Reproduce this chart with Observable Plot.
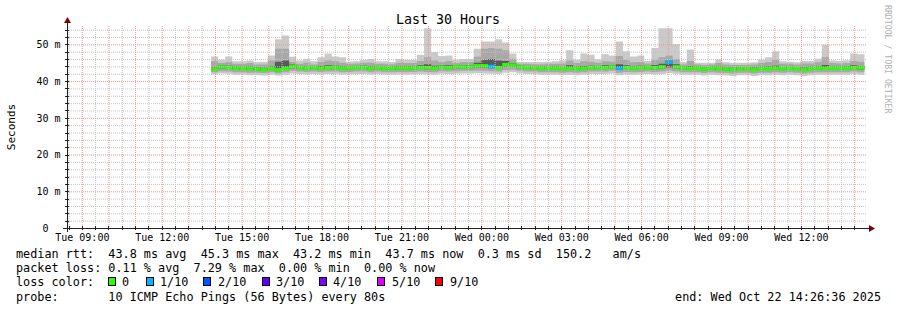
<!DOCTYPE html>
<html><head><meta charset="utf-8">
<script src="https://cdn.jsdelivr.net/npm/d3@7"></script>
<script src="https://cdn.jsdelivr.net/npm/@observablehq/plot@0.6"></script>
<style>
html,body{margin:0;padding:0;background:#fff;}
#chart{width:897px;height:310px;overflow:hidden;}
svg{display:block;}
</style></head><body><div id="chart"></div>
<script>
const title = "Last 30 Hours";
const yLabel = "Seconds";
const credit = "RRDTOOL / TOBI OETIKER";
const windowStart = "2025-10-21T08:26:36Z";
const windowEnd = "2025-10-22T14:26:36Z";
const firstStep = "2025-10-21T13:51:00Z";
const stepMinutes = 16;

const yTicks = [0, 10, 20, 30, 40, 50];
const yTickLabels = ["0\u00a0\u00a0", "10 m", "20 m", "30 m", "40 m", "50 m"];
const xTickTimes = ["2025-10-21T09:00Z","2025-10-21T12:00Z","2025-10-21T15:00Z","2025-10-21T18:00Z","2025-10-21T21:00Z","2025-10-22T00:00Z","2025-10-22T03:00Z","2025-10-22T06:00Z","2025-10-22T09:00Z","2025-10-22T12:00Z"];
const xTickLabels = ["Tue 09:00","Tue 12:00","Tue 15:00","Tue 18:00","Tue 21:00","Wed 00:00","Wed 03:00","Wed 06:00","Wed 09:00","Wed 12:00"];

// ms values per 16-minute step
const pingMax = [
46.7,45.8,46.7,45.4,45.4,45.6,45.2,45.3,47.0,51.4,
52.4,46.6,45.6,46.0,45.4,46.5,47.5,46.7,46.5,45.3,
45.4,45.8,46.0,45.4,45.4,45.2,46.0,45.8,45.8,47.2,
54.4,47.9,46.8,47.0,45.8,46.0,46.0,48.8,50.8,50.8,
51.4,50.5,47.5,45.2,45.2,45.2,45.2,45.3,45.4,45.6,
48.4,45.8,47.5,47.2,45.9,47.3,47.0,50.8,48.1,46.7,
47.0,45.5,49.0,54.4,54.4,50.0,45.1,48.6,45.0,45.0,
45.0,45.9,45.1,45.0,45.0,45.0,45.1,45.9,46.5,48.1,
45.4,45.3,45.1,45.5,45.5,46.1,49.9,45.6,45.5,45.7,
47.5,47.3];
const pingHi = [
45.4,44.9,45.2,44.7,44.7,44.9,44.5,44.5,45.6,48.8,
48.8,45.2,44.7,45.0,44.5,45.2,45.6,45.4,45.0,44.7,
44.8,45.0,45.0,44.7,44.7,44.6,45.0,44.9,44.9,45.5,
46.5,45.6,45.2,45.5,44.9,45.2,45.2,46.6,48.8,49.0,
48.8,48.4,46.1,44.7,44.7,44.6,44.6,44.7,44.7,44.8,
45.6,44.9,45.4,45.3,45.0,45.4,45.3,46.8,45.8,45.1,
45.2,44.8,45.8,46.5,47.0,46.0,44.6,45.5,44.5,44.4,
44.5,44.9,44.5,44.4,44.4,44.4,44.5,44.9,45.2,45.8,
44.7,44.7,44.5,44.8,44.8,45.1,46.5,44.9,44.8,44.9,
45.5,45.3];
const pingHi2 = [
43.8,44.3,44.2,43.9,43.9,43.9,43.7,43.6,44.0,45.3,
45.6,44.5,44.1,44.0,44.0,44.1,44.3,44.2,44.0,44.0,
44.1,44.2,44.0,44.1,43.9,43.9,44.1,44.0,44.1,44.3,
44.6,44.2,44.3,44.3,44.3,44.4,44.4,45.0,45.8,46.0,
45.6,45.5,44.9,44.3,44.1,44.1,43.9,43.9,44.0,43.8,
44.3,43.9,44.1,44.2,44.1,44.3,44.4,44.6,44.3,44.0,
44.2,44.1,44.4,44.7,45.6,44.6,43.9,44.1,43.9,43.7,
43.9,43.9,43.7,43.6,43.8,43.8,43.7,43.9,44.0,44.2,
43.8,43.9,43.8,43.7,43.9,44.0,44.4,43.9,43.9,44.0,
44.3,44.1];
const pingMed = [
43.4,44.0,43.8,43.6,43.6,43.5,43.4,43.3,43.5,43.2,
43.6,44.1,43.8,43.6,43.8,43.6,43.8,43.8,43.6,43.7,
43.8,43.8,43.6,43.8,43.6,43.6,43.7,43.6,43.7,43.8,
43.8,43.6,43.9,43.8,44.0,44.0,44.0,44.3,44.3,44.1,
43.8,44.6,44.5,44.0,43.8,43.8,43.6,43.6,43.6,43.5,
43.6,43.5,43.6,43.8,43.8,43.8,44.0,43.6,43.8,43.6,
43.8,43.8,43.8,44.0,45.3,44.0,43.6,43.6,43.6,43.4,
43.6,43.5,43.4,43.3,43.5,43.5,43.3,43.5,43.5,43.6,
43.5,43.6,43.5,43.3,43.5,43.6,43.6,43.6,43.6,43.6,
43.8,43.7];
const pingLo2 = [
43.0,43.4,43.3,43.1,43.1,43.0,42.9,42.8,43.0,42.7,
43.1,43.5,43.3,43.1,43.3,43.1,43.3,43.3,43.1,43.2,
43.3,43.3,43.1,43.3,43.1,43.1,43.2,43.1,43.2,43.3,
43.2,43.1,43.4,43.3,43.4,43.5,43.5,43.7,43.6,43.5,
43.3,43.9,43.9,43.5,43.3,43.3,43.1,43.1,43.1,43.0,
43.1,43.0,43.1,43.3,43.3,43.3,43.5,43.1,43.3,43.1,
43.3,43.3,43.2,43.4,43.7,43.4,43.1,43.1,43.1,42.9,
43.1,43.0,42.9,42.8,43.0,43.0,42.8,43.0,43.0,43.1,
43.0,43.1,43.0,42.8,43.0,43.1,43.1,43.1,43.1,43.1,
43.3,43.1];
const pingLo = [
42.4,42.7,42.6,42.4,42.4,42.3,42.3,42.2,42.4,42.1,
42.4,42.8,42.6,42.5,42.6,42.5,42.6,42.6,42.4,42.5,
42.6,42.6,42.4,42.6,42.4,42.4,42.5,42.4,42.5,42.6,
42.5,42.4,42.7,42.6,42.7,42.8,42.8,42.9,42.8,42.7,
42.6,43.0,43.1,42.8,42.6,42.6,42.4,42.4,42.4,42.3,
42.4,42.3,42.4,42.6,42.6,42.6,42.8,42.3,42.5,42.4,
42.5,42.6,42.5,42.6,42.9,42.7,42.4,42.4,42.4,42.2,
42.4,42.3,42.2,42.1,42.3,42.3,42.1,42.3,42.3,42.4,
42.3,42.4,42.3,42.1,42.3,42.4,42.4,42.4,42.4,42.4,
42.6,42.4];
const pingMin = [
41.8,42.1,42.0,41.7,41.7,41.6,41.6,41.5,41.7,41.5,
41.7,42.1,41.9,41.8,41.9,41.8,41.9,41.9,41.7,41.8,
41.9,41.9,41.7,41.9,41.7,41.7,41.8,41.7,41.8,41.9,
41.8,41.7,42.0,41.9,42.0,42.1,42.1,42.2,42.1,42.0,
41.9,42.3,42.4,42.1,41.9,41.9,41.7,41.7,41.7,41.6,
41.7,41.6,41.7,41.9,41.9,41.9,42.1,41.6,41.8,41.7,
41.8,41.9,41.8,41.9,42.2,42.0,41.7,41.7,41.7,41.5,
41.7,41.6,41.5,41.4,41.6,41.6,41.4,41.6,41.6,41.7,
41.6,41.7,41.6,41.4,41.6,41.7,41.7,41.7,41.7,41.7,
41.9,41.7];
// lost pings per step (tenths)
const lossTenths = [
0,0,0,0,0,0,0,0,0,0,
0,0,0,0,0,0,0,0,0,0,
0,0,0,0,0,0,0,0,0,0,
0,0,0,0,0,0,0,0,0,1,
0,0,0,0,0,0,0,0,0,0,
0,0,0,0,0,0,0,1,0,0,
0,0,0,0,1,0,0,0,0,0,
0,0,0,0,0,0,0,0,0,0,
0,0,0,0,0,0,0,0,0,0,
0,0];

const lossLabels = ["0","1/10","2/10","3/10","4/10","5/10","9/10"];
const lossColors = ["#26ff00","#00b8ff","#0059ff","#5e00ff","#7e00ff","#dd00ff","#ff0000"];
const lossColorByTenths = {0:"#26ff00",1:"#00b8ff",2:"#0059ff",3:"#5e00ff",4:"#7e00ff",5:"#dd00ff",9:"#ff0000"};

const statLines = [
  "median rtt:  43.8 ms avg  45.3 ms max  43.2 ms min  43.7 ms now  0.3 ms sd  150.2   am/s",
  "packet loss: 0.11 % avg  7.29 % max  0.00 % min  0.00 % now",
  "loss color:",
  "probe:       10 ICMP Echo Pings (56 Bytes) every 80s"
];
const endText = "end: Wed Oct 22 14:26:36 2025";

// ---- build rows
const t0 = new Date(firstStep);
const stepMs = stepMinutes * 60000;
const rows = pingMed.map((m, i) => ({
  t: new Date(+t0 + i * stepMs),
  t2: new Date(+t0 + (i + 1) * stepMs),
  max: pingMax[i], hi: pingHi[i], hi2: pingHi2[i], med: m,
  lo2: pingLo2[i], lo: pingLo[i], min: pingMin[i],
  color: lossColorByTenths[lossTenths[i]]
}));
const last = rows[rows.length - 1];
const areaRows = [...rows, {...last, t: last.t2}];

const xDomain = [new Date(windowStart), new Date(windowEnd)];
const hours = d3.utcHour.range(xDomain[0], xDomain[1]);
const halfHours = d3.utcMinute.every(30).range(xDomain[0], xDomain[1]).filter(d => d.getUTCMinutes() === 30);
const majorY = [10, 20, 30, 40, 50];
const minorY = d3.range(2, 55, 2).filter(v => v % 10 !== 0);
const tickTimes = xTickTimes.map(s => new Date(s));

const MONO = "'DejaVu Sans Mono', monospace";
const gridDash = "1,1";

const plot = Plot.plot({
  width: 897, height: 310,
  marginLeft: 67, marginRight: 31, marginTop: 26, marginBottom: 82,
  style: {background: "#fff", fontFamily: MONO, fontSize: "10px", color: "#000"},
  x: {type: "utc", domain: xDomain, label: null},
  y: {domain: [0, 55], label: null},
  color: {type: "identity"},
  marks: [
    Plot.areaY(areaRows, {x: "t", y1: "min", y2: "max", curve: "step-after", fill: "#cacaca"}),
    Plot.areaY(areaRows, {x: "t", y1: "lo", y2: "hi", curve: "step-after", fill: "#a8a8a8"}),
    Plot.areaY(areaRows, {x: "t", y1: "lo2", y2: "hi2", curve: "step-after", fill: "#5a5a5a"}),
    Plot.ruleY(rows, {x1: "t", x2: "t2", y: "med", stroke: "color", strokeWidth: 3.5}),
    Plot.ruleY(minorY, {stroke: "#c4c4c4", strokeDasharray: gridDash}),
    Plot.ruleX(halfHours, {stroke: "#c4c4c4", strokeDasharray: gridDash}),
    Plot.ruleY(majorY, {stroke: "#f39393", strokeDasharray: gridDash}),
    Plot.ruleX(hours, {stroke: "#f39393", strokeDasharray: gridDash}),
    Plot.axisX(tickTimes, {anchor: "bottom", tickSize: 0, tickPadding: 5, label: null, fontSize: 10,
      tickFormat: d => xTickLabels[tickTimes.findIndex(t => +t === +d)]}),
    Plot.axisY(yTicks, {anchor: "left", tickSize: 0, tickPadding: 7, label: null, fontSize: 10,
      tickFormat: d => yTickLabels[yTicks.indexOf(d)]})
  ]
});
document.getElementById("chart").appendChild(plot);

// ---- decorations via scales
const svg = d3.select(plot);
const sx = plot.scale("x"), sy = plot.scale("y");
const x0 = sx.apply(xDomain[0]), x1 = sx.apply(xDomain[1]);
const y0 = sy.apply(0), yTop = sy.apply(55);
const axisColor = "#212121", arrowColor = "#800000";
const deco = svg.append("g").attr("shape-rendering", "crispEdges");

// axis ticks
minorY.concat(majorY).forEach(v => {
  deco.append("line").attr("x1", x0 - 2).attr("x2", x0 + 2)
    .attr("y1", Math.round(sy.apply(v)) + 0.5).attr("y2", Math.round(sy.apply(v)) + 0.5)
    .attr("stroke", axisColor);
});
hours.concat(halfHours).forEach(d => {
  const xx = Math.round(sx.apply(d)) + 0.5;
  deco.append("line").attr("x1", xx).attr("x2", xx).attr("y1", y0 - 2).attr("y2", y0 + 2)
    .attr("stroke", axisColor);
});
// axis lines
deco.append("line").attr("x1", x0 - 4).attr("x2", x1 + 3).attr("y1", y0 + 0.5).attr("y2", y0 + 0.5)
  .attr("stroke", axisColor);
deco.append("line").attr("x1", x0 + 0.5).attr("x2", x0 + 0.5).attr("y1", y0 + 4).attr("y2", yTop - 3)
  .attr("stroke", axisColor);
// arrows
svg.append("path").attr("fill", arrowColor)
  .attr("d", `M${x1 + 3},${y0 - 3} L${x1 + 9},${y0 + 0.5} L${x1 + 3},${y0 + 4} Z`);
svg.append("path").attr("fill", arrowColor)
  .attr("d", `M${x0 - 3},${yTop - 3} L${x0 + 0.5},${yTop - 9} L${x0 + 4},${yTop - 3} Z`);

// title
svg.append("text").attr("x", 448).attr("y", 24).attr("text-anchor", "middle")
  .attr("font-family", MONO).attr("font-size", 13.3).attr("fill", "#000").text(title);
// y label
svg.append("text").attr("transform", `translate(15,${(y0 + yTop) / 2}) rotate(-90)`)
  .attr("text-anchor", "middle").attr("font-family", MONO).attr("font-size", 11)
  .attr("fill", "#000").text(yLabel);
// credit
svg.append("text").attr("transform", "translate(885,5) rotate(90)").attr("text-anchor", "start")
  .attr("font-family", MONO).attr("font-size", 8.2).attr("fill", "#b0b0b0").text(credit);

// legend
const legendY = [258, 272, 286, 300.5];
statLines.forEach((s, i) => {
  svg.append("text").attr("x", 16).attr("y", legendY[i]).attr("text-anchor", "start")
    .attr("xml:space", "preserve").style("white-space", "pre")
    .attr("font-family", MONO).attr("font-size", 11.8).attr("fill", "#000").text(s);
});
const sqX = [108, 146, 203, 262, 319, 377, 435];
const lblX = [122, 160, 218, 276, 333, 392, 450];
lossLabels.forEach((l, i) => {
  svg.append("rect").attr("x", sqX[i] + 0.5).attr("y", 277.5).attr("width", 7).attr("height", 8)
    .attr("fill", lossColors[i]).attr("stroke", "#000").attr("stroke-width", 1);
  svg.append("text").attr("x", lblX[i]).attr("y", legendY[2]).attr("text-anchor", "start")
    .attr("font-family", MONO).attr("font-size", 11.8).attr("fill", "#000").text(l);
});
svg.append("text").attr("x", 881).attr("y", legendY[3]).attr("text-anchor", "end")
  .attr("font-family", MONO).attr("font-size", 11.8).attr("fill", "#000").text(endText);
</script></body></html>
